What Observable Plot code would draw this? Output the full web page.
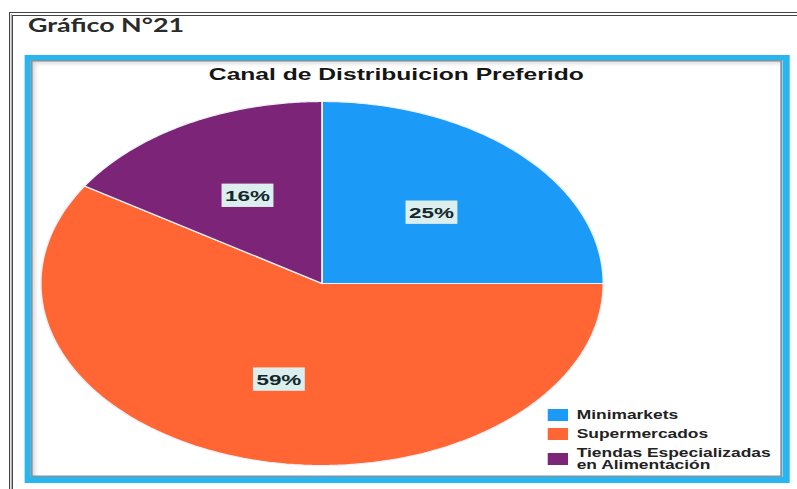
<!DOCTYPE html>
<html>
<head>
<meta charset="utf-8">
<script src="https://cdn.jsdelivr.net/npm/d3@7"></script>
<script src="https://cdn.jsdelivr.net/npm/@observablehq/plot@0.6"></script>
<style>
  html, body { margin: 0; padding: 0; background: #fff; overflow: hidden; width: 797px; height: 489px; }
  #stage {
    position: relative; width: 550px; height: 489px;
    transform: scaleX(1.449); transform-origin: 0 0;
    font-family: "Liberation Sans", Arial, sans-serif;
  }
  #outer {
    position: absolute; left: 5.5px; top: 12px; right: -30px; bottom: -30px;
    border-top: 4.5px double #444; border-left: 3.5px double #444;
  }
  #heading {
    position: absolute; left: 19.3px; top: 16px;
    font-family: Lato, "Open Sans", sans-serif; font-weight: 700; font-size: 18.5px; line-height: 1;
    color: #2a2a2a; white-space: nowrap;
  }
  #blue {
    position: absolute; left: 16.6px; top: 55px; width: 528.3px; height: 428px; box-sizing: border-box;
    border: 5px solid #29b5ee; border-left-width: 4.2px; border-right-width: 5.5px; border-bottom-width: 6px;
    box-shadow: inset 0 0 0 1.5px #8391a3, inset 3px 3px 4px rgba(0,0,0,0.18);
    background: #fff;
  }
  #stage > svg { position: absolute; left: 0; top: 0; }
  .lg-swatches {
    position: absolute; left: 378px; top: 409px; width: 172px; margin: 0 !important;
    font: bold 12px "Liberation Sans", Arial, sans-serif !important; color: #222;
  }
  .lg-swatch { padding-bottom: 7px !important; display: flex; align-items: center; }
  .lg-swatch > svg { margin-right: 6px !important; flex-shrink: 0; }
  .lg-swatch-label { white-space: pre-line !important; line-height: 1.0; overflow: visible !important; }
</style>
</head>
<body>
<div id="stage">
  <div id="outer"></div>
  <div id="heading">Gráfico N°21</div>
  <div id="blue"></div>
</div>
<script>
// ---- data ----
const categories = ["Minimarkets", "Supermercados", "Tiendas Especializadas en Alimentación"];
const legendLabels = ["Minimarkets", "Supermercados", "Tiendas Especializadas\nen Alimentación"];
const shares = [25, 59, 16];
const shareLabels = ["25%", "59%", "16%"];
const colors = ["#1b9af7", "#ff6633", "#7b2478"];
const chartTitle = "Canal de Distribuicion Preferido";

// ---- geometry from data (d3.pie, starting at 12 o'clock, clockwise) ----
const arcs = d3.pie().sort(null).value(d => d)(shares);
const pts = [];
arcs.forEach((a, i) => {
  const cat = categories[i];
  pts.push({cat, x: 0, y: 0});
  const n = 120;
  for (let k = 0; k <= n; k++) {
    const t = a.startAngle + (a.endAngle - a.startAngle) * k / n;
    pts.push({cat, x: Math.sin(t), y: Math.cos(t)});
  }
  pts.push({cat, x: 0, y: 0});
});
const labelR = 0.55;
const labelData = arcs.map((a, i) => {
  const m = (a.startAngle + a.endAngle) / 2;
  return {text: shareLabels[i], x: Math.sin(m) * labelR, y: Math.cos(m) * labelR};
});

const chart = Plot.plot({
  width: 550,
  height: 489,
  margin: 0,
  style: {background: "none", overflow: "visible"},
  x: {domain: [-1, 1], range: [27.6, 415.9], axis: null},
  y: {domain: [-1, 1], range: [465, 101], axis: null},
  color: {domain: categories, range: colors},
  marks: [
    Plot.line(pts, {x: "x", y: "y", z: "cat", fill: "cat", stroke: "#eef2f8", strokeWidth: 1.2, curve: "linear"}),
    Plot.text([chartTitle], {frameAnchor: "top", dx: -2, dy: 67.5, fontSize: 17, fontWeight: "bold", fill: "#151515",
      fontFamily: "Liberation Sans, Arial, sans-serif"}),
    Plot.text(labelData, {x: "x", y: "y", text: "text", fontSize: 15.5, fontWeight: "bold", fill: "#14272b",
      fontFamily: "Liberation Sans, Arial, sans-serif"})
  ]
});
const stage = document.getElementById("stage");
stage.appendChild(chart);

// boxes behind the percentage labels
const textGroups = chart.querySelectorAll('g[aria-label="text"]');
const lblGroup = textGroups[textGroups.length - 1];
lblGroup.querySelectorAll("text").forEach(t => {
  const bb = t.getBBox();
  const r = document.createElementNS("http://www.w3.org/2000/svg", "rect");
  r.setAttribute("x", bb.x - 2.4);
  r.setAttribute("y", bb.y - 3.5);
  r.setAttribute("width", bb.width + 4.8);
  r.setAttribute("height", bb.height + 6.5);
  r.setAttribute("fill", "#dcefee");
  if (t.getAttribute("transform")) r.setAttribute("transform", t.getAttribute("transform"));
  t.parentNode.insertBefore(r, t);
});

const legendMap = new Map(categories.map((c, i) => [c, legendLabels[i]]));
const legend = Plot.legend({
  color: {domain: categories, range: colors},
  legend: "swatches",
  columns: 1,
  swatchWidth: 14,
  swatchHeight: 12,
  className: "lg",
  tickFormat: d => legendMap.get(d)
});
stage.appendChild(legend);
</script>
</body>
</html>
